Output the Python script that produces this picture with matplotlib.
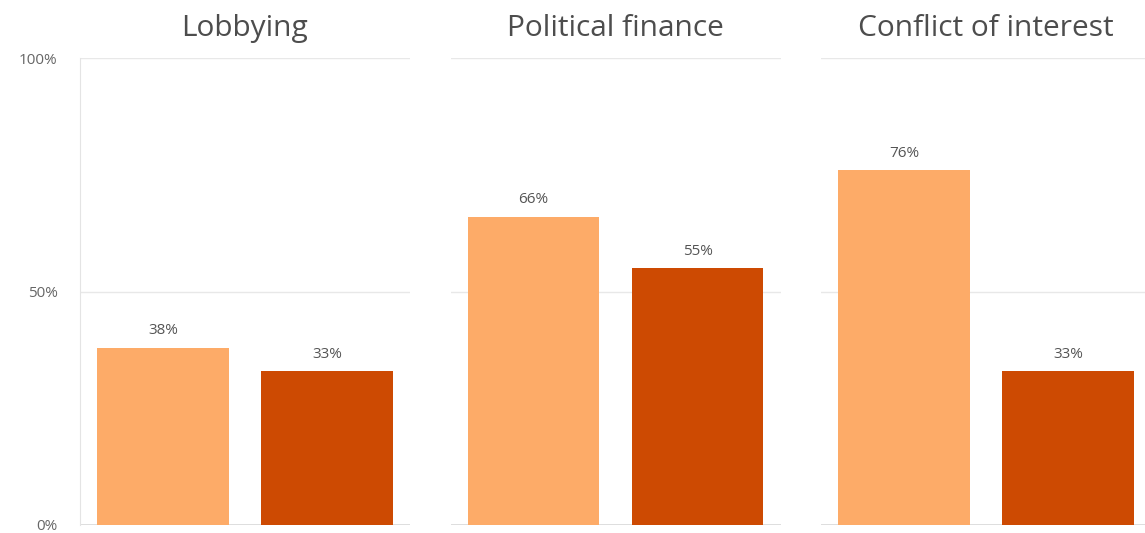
import numpy as np
import matplotlib.pyplot as plt

plt.rcParams['font.family'] = ['Open Sans', 'DejaVu Sans']

panels = ["Lobbying", "Political finance", "Conflict of interest"]
first_values = [38, 66, 76]
second_values = [33, 55, 33]
yticks = [0, 50, 100]
ytick_labels = ["0%", "50%", "100%"]

light = "#fdab68"
dark = "#cd4a02"

fig = plt.figure(figsize=(11.45, 5.33), dpi=100)
W, H = 1145, 533

left0 = 80
step = 370.5
width = 330
bottom = 8
height = 467

for i, name in enumerate(panels):
    ax = fig.add_axes([(left0 + i * step) / W, bottom / H, width / W, height / H])
    vals = [first_values[i], second_values[i]]
    x = np.arange(2)
    bars = ax.bar(x, vals, width=0.80, color=[light, dark], zorder=3)
    for b, v in zip(bars, vals):
        ax.text(b.get_x() + b.get_width() / 2, v + 2.0, f"{v}%",
                ha="center", va="bottom", fontsize=11, color="#555555")
    ax.set_xlim(-0.505, 1.505)
    ax.set_ylim(0, 100)
    ax.set_yticks(yticks)
    ax.grid(axis="y", color="#e8e8e8", linewidth=1, zorder=0)
    ax.set_xticks([])
    for s in ["top", "right", "bottom"]:
        ax.spines[s].set_visible(False)
    if i == 0:
        ax.spines["left"].set_color("#e4e4e4")
        ax.set_yticklabels(ytick_labels)
        ax.tick_params(axis="y", length=0, pad=16, labelsize=11, labelcolor="#666666")
    else:
        ax.spines["left"].set_visible(False)
        ax.tick_params(axis="y", length=0, labelleft=False)
    ax.axhline(0, color="#d9d9d9", linewidth=1.2, zorder=2)
    ax.text(0.5, 1 + 30 / height, name, transform=ax.transAxes,
            ha="center", va="center", fontsize=21.5, color="#4d4d4d")

fig.savefig("out.png", dpi=100)
